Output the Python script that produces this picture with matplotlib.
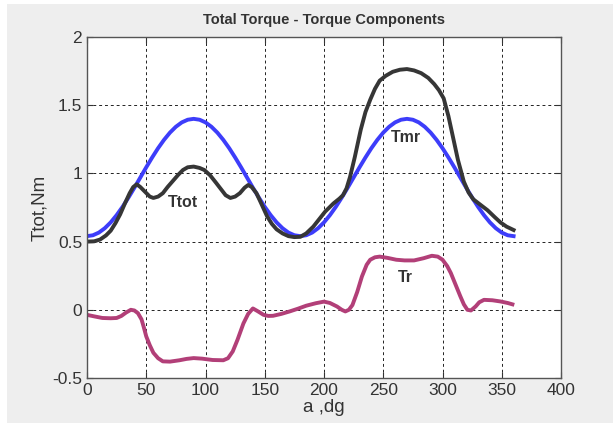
import matplotlib
matplotlib.use("Agg")
import matplotlib.pyplot as plt
from matplotlib.patches import Rectangle

plt.rcParams['font.family'] = ['Liberation Sans', 'DejaVu Sans']

# Tmr - magnetic reluctance torque component
a_tmr = list(range(0, 365, 5))
tmr_half = [0.54, 0.5465, 0.566, 0.598, 0.641, 0.694, 0.755, 0.823, 0.895, 0.97, 1.045, 1.117,
            1.185, 1.246, 1.299, 1.342, 1.374, 1.3935, 1.40, 1.3935, 1.374, 1.342, 1.299, 1.246,
            1.185, 1.117, 1.045, 0.97, 0.895, 0.823, 0.755, 0.694, 0.641, 0.598, 0.566, 0.5465]
tmr = tmr_half + tmr_half + [0.54]

# Ttot - total torque
a_tot = [0, 6, 11, 16, 20, 24, 28, 32, 36, 39, 42, 45, 49, 53, 56, 60, 64, 68, 73, 77, 81, 85,
         90, 95, 99, 104, 109, 113, 117, 121, 125, 129, 133, 136, 139, 143, 147, 152, 156, 160,
         165, 170, 175, 180, 185, 191, 196, 201, 208, 213, 216, 219, 222, 226, 231, 235, 239,
         243, 247, 252, 258, 264, 270, 276, 282, 288, 293, 297, 301, 305, 309, 313, 318, 322,
         326, 332, 338, 344, 349, 354, 360]
ttot = [0.50, 0.502, 0.515, 0.545, 0.58, 0.635, 0.70, 0.78, 0.855, 0.90, 0.92, 0.90, 0.865,
        0.83, 0.82, 0.83, 0.855, 0.90, 0.95, 0.99, 1.025, 1.045, 1.05, 1.04, 1.025, 0.985, 0.93,
        0.885, 0.84, 0.82, 0.83, 0.855, 0.895, 0.915, 0.90, 0.855, 0.78, 0.685, 0.63, 0.59,
        0.56, 0.54, 0.533, 0.535, 0.56, 0.61, 0.665, 0.72, 0.78, 0.815, 0.84, 0.89, 0.975, 1.12,
        1.32, 1.45, 1.54, 1.62, 1.68, 1.715, 1.745, 1.76, 1.765, 1.755, 1.735, 1.70, 1.655,
        1.61, 1.55, 1.42, 1.26, 1.10, 0.94, 0.86, 0.81, 0.77, 0.73, 0.68, 0.64, 0.61, 0.585]

# Tr - ripple torque
a_tr = [0, 6, 13, 20, 25, 29, 33, 37, 40, 43, 46, 48, 50, 53, 56, 60, 64, 70, 78, 84, 90, 97,
        106, 115, 119, 123, 127, 132, 136, 140, 144, 149, 153, 157, 164, 171, 178, 185, 193,
        200, 205, 211, 215, 218, 221, 224, 228, 232, 236, 239, 243, 247, 254, 261, 268, 276,
        284, 291, 296, 300, 304, 307, 311, 315, 318, 321, 324, 328, 331, 335, 342, 349, 355,
        359]
tr = [-0.037, -0.048, -0.06, -0.062, -0.06, -0.045, -0.02, 0.0, -0.005, -0.025, -0.07, -0.13,
      -0.195, -0.26, -0.315, -0.355, -0.378, -0.38, -0.37, -0.36, -0.354, -0.358, -0.368,
      -0.37, -0.355, -0.305, -0.22, -0.10, -0.03, 0.01, -0.01, -0.037, -0.045, -0.044, -0.03,
      -0.012, 0.008, 0.03, 0.048, 0.06, 0.05, 0.024, 0.0, -0.012, 0.0, 0.035, 0.13, 0.244,
      0.33, 0.367, 0.385, 0.39, 0.38, 0.367, 0.362, 0.362, 0.378, 0.396, 0.39, 0.367, 0.32,
      0.27, 0.185, 0.10, 0.04, 0.0, -0.005, 0.025, 0.055, 0.073, 0.07, 0.061, 0.05, 0.04]

xticks = [0, 50, 100, 150, 200, 250, 300, 350, 400]
yticks = [-0.5, 0, 0.5, 1, 1.5, 2]
yticklabels = ['-0.5', '0', '0.5', '1', '1.5', '2']

fig = plt.figure(figsize=(6.13, 4.23), dpi=100, facecolor='white')
fig.patches.append(Rectangle((7 / 613, 0), 1, 1 - 4 / 423, transform=fig.transFigure,
                             facecolor='#eeeeee', edgecolor='none', zorder=-10))
ax = fig.add_axes([87 / 613, 45 / 423, 474 / 613, 341 / 423])
ax.set_facecolor('white')

ax.plot(a_tmr, tmr, color='#3d3dfa', lw=2.8, solid_joinstyle='round')
ax.plot(a_tot, ttot, color='#363636', lw=2.8, solid_joinstyle='round')
ax.plot(a_tr, tr, color='#b23f78', lw=2.8, solid_joinstyle='round')

lbl = dict(fontsize=11.5, fontweight='bold', color='#333333', ha='center', va='center')
ax.text(81, 0.79, 'Ttot', **lbl)
ax.text(269, 1.26, 'Tmr', **lbl)
ax.text(269, 0.24, 'Tr', **lbl)

ax.set_xlim(0, 400)
ax.set_ylim(-0.5, 2)
ax.set_xticks(xticks)
ax.set_yticks(yticks)
ax.set_yticklabels(yticklabels)
ax.grid(True, color='#222222', linestyle=(0, (3, 3)), linewidth=0.7)
ax.tick_params(direction='in', length=4, labelsize=12.5, colors='#333333', top=True, right=True)
for s in ax.spines.values():
    s.set_color('#555555')
    s.set_linewidth(1)

ax.set_title('Total Torque - Torque Components', fontsize=10.5, fontweight='bold', color='#333333', pad=9)
ax.set_xlabel('a ,dg', fontsize=13.5, color='#333333', labelpad=1)
ax.set_ylabel('Ttot,Nm', fontsize=13.5, color='#333333', labelpad=3)

fig.savefig('out.png', dpi=100, facecolor=fig.get_facecolor())
